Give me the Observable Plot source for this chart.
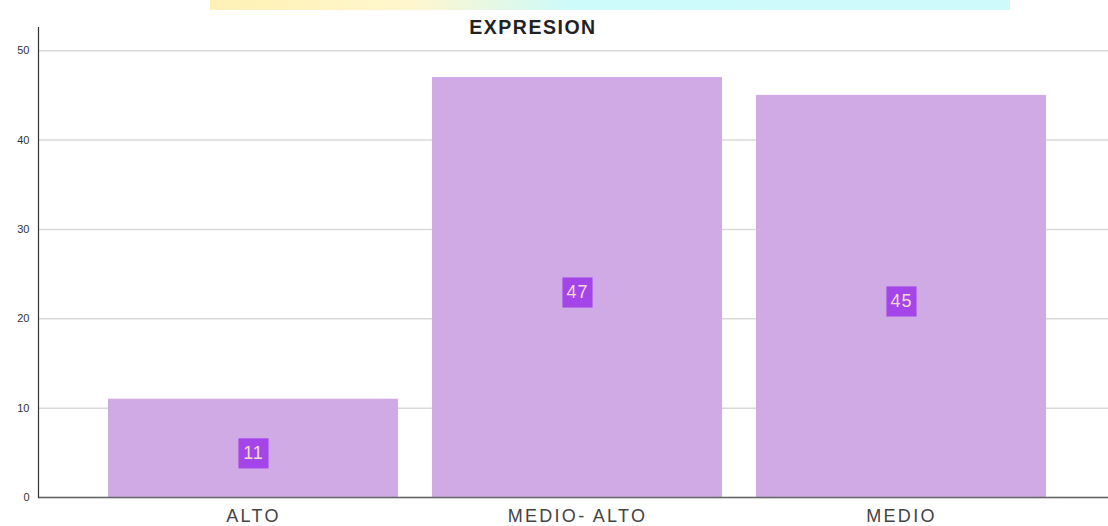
<!DOCTYPE html>
<html>
<head>
<meta charset="utf-8">
<script src="https://cdn.jsdelivr.net/npm/d3@7"></script>
<script src="https://cdn.jsdelivr.net/npm/@observablehq/plot@0.6"></script>
<style>
  html, body { margin: 0; padding: 0; background: #fff; }
  #wrap { position: relative; width: 1108px; height: 526px; overflow: hidden; font-family: "Liberation Sans", Arial, sans-serif; }
  #deco { position: absolute; left: 210px; top: 0; width: 800px; height: 10px;
          background: linear-gradient(90deg, rgba(255,240,170,0.9) 0%, rgba(255,245,200,0.9) 25%, rgba(200,250,250,0.9) 45%, rgba(205,250,252,0.95) 100%); }
  #title { position: absolute; left: 0; width: 1066px; top: 16px; text-align: center; font-weight: bold; font-size: 19.5px; letter-spacing: 1.5px; color: #222; }
  #chart { position: absolute; left: 0; top: 0; }
  g[aria-label="x-axis tick label"] text { letter-spacing: 2.3px; }
  g[aria-label="text"] text { letter-spacing: 1px; }
</style>
</head>
<body>
<div id="wrap">
  <div id="deco"></div>
  <div id="chart"></div>
  <div id="title">EXPRESION</div>
</div>
<script>
const categories = ["ALTO", "MEDIO- ALTO", "MEDIO"];
const counts = [11, 47, 45];
const yTicks = [0, 10, 20, 30, 40, 50];

const data = categories.map((c, i) => ({cat: c, n: counts[i]}));

const chart = Plot.plot({
  width: 1108,
  height: 526,
  marginLeft: 38,
  marginRight: 0,
  marginTop: 27,
  marginBottom: 29,
  style: {fontFamily: "Liberation Sans, Arial, sans-serif", background: "transparent"},
  x: {domain: categories, paddingInner: 0.105, paddingOuter: 0.2037, align: 0.53, label: null},
  y: {domain: [0, 52.6], label: null},
  marks: [
    Plot.gridY(yTicks, {stroke: "#d9d9d9", strokeOpacity: 1, strokeWidth: 1.5}),
    Plot.barY(data, {x: "cat", y: "n", fill: "#cfaae4"}),
    Plot.dot(data, {x: "cat", y: d => d.n / 2, dy: 5, symbol: "square", r: 17, fill: "#a445ea", stroke: "none"}),
    Plot.text(data, {x: "cat", y: d => d.n / 2, dy: 5, text: d => String(d.n), fill: "#f6dccc", fontSize: 18}),
    Plot.ruleY([0], {stroke: "#666", strokeWidth: 1.5}),
    Plot.frame({anchor: "left", stroke: "#333", strokeWidth: 1.2}),
    Plot.axisY(yTicks, {tickSize: 0, tickPadding: 9, fontSize: 11, fill: "#333", label: null}),
    Plot.axisX({tickSize: 0, tickPadding: 12, fontSize: 18, fill: "#444", label: null})
  ]
});
document.getElementById("chart").appendChild(chart);
</script>
</body>
</html>
